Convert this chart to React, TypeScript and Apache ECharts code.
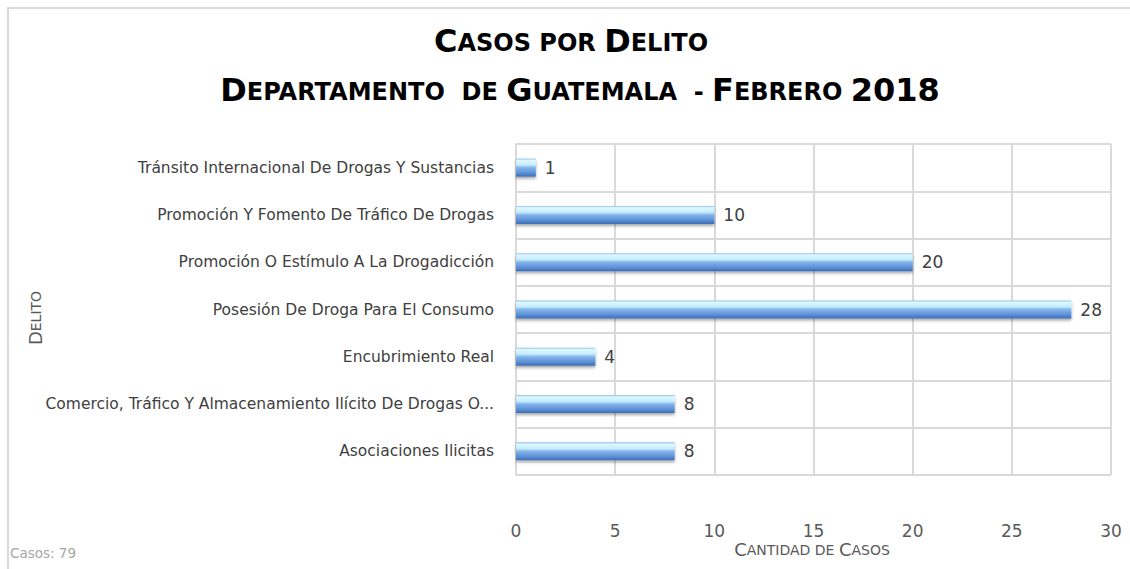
import { useEffect, useRef } from "react";
import * as echarts from "echarts";

const categories = [
  "Asociaciones Ilicitas",
  "Comercio, Tráfico Y Almacenamiento Ilícito De Drogas O...",
  "Encubrimiento Real",
  "Posesión De Droga Para El Consumo",
  "Promoción O Estímulo A La Drogadicción",
  "Promoción Y Fomento De Tráfico De Drogas",
  "Tránsito Internacional De Drogas Y Sustancias",
];
const values = [8, 8, 4, 28, 20, 10, 1];
const xTicks = [0, 5, 10, 15, 20, 25, 30];
const totalLabel = "Casos: 79";

const FONT = "DejaVu Sans";

export default function App() {
  const ref = useRef<HTMLDivElement>(null);
  useEffect(() => {
    if (!ref.current) return;
    const chart = echarts.init(ref.current, null, { renderer: "svg" });
    const titleRich = {
      b: { fontSize: 32, fontWeight: "bold", fontFamily: FONT, fill: "#000", verticalAlign: "bottom", lineHeight: 32 },
      s: { fontSize: 24, fontWeight: "bold", fontFamily: FONT, fill: "#000", verticalAlign: "bottom", lineHeight: 24, padding: [0, 0, 2, 0] },
    };
    const nameRich = {
      b: { fontSize: 18, fontFamily: FONT, fill: "#595959", verticalAlign: "bottom", lineHeight: 18 },
      s: { fontSize: 14, fontFamily: FONT, fill: "#595959", verticalAlign: "bottom", lineHeight: 14, padding: [0, 0, 1, 0] },
    };
    chart.setOption({
      animation: false,
      backgroundColor: "#ffffff",
      grid: { left: 516, right: 19, top: 144, bottom: 94, containLabel: false },
      xAxis: {
        type: "value",
        min: xTicks[0],
        max: xTicks[xTicks.length - 1],
        interval: xTicks[1] - xTicks[0],
        axisLine: { show: false },
        axisTick: { show: false },
        axisLabel: { color: "#595959", fontSize: 17, fontFamily: FONT, margin: 47 },
        splitLine: { show: true, lineStyle: { color: "#d9d9d9", width: 2 } },
      },
      yAxis: {
        type: "category",
        data: categories,
        axisLine: { show: true, lineStyle: { color: "#d9d9d9", width: 2 } },
        axisTick: { show: false },
        splitLine: { show: true, lineStyle: { color: "#d9d9d9", width: 2 } },
        axisLabel: { color: "#404040", fontSize: 15.5, fontFamily: FONT, margin: 22 },
      },
      series: [
        {
          type: "bar",
          data: values,
          barWidth: 18,
          itemStyle: {
            color: new echarts.graphic.LinearGradient(0, 0, 0, 1, [
              { offset: 0, color: "#8fc0ec" },
              { offset: 0.1, color: "#def8ff" },
              { offset: 0.35, color: "#c4ecff" },
              { offset: 0.5, color: "#84b4ea" },
              { offset: 0.8, color: "#5b8fd6" },
              { offset: 1, color: "#3d6cb3" },
            ]),
            shadowColor: "rgba(0,0,0,0.35)",
            shadowBlur: 3,
            shadowOffsetY: 2,
          },
          label: {
            show: true,
            position: "right",
            distance: 9,
            color: "#404040",
            fontSize: 17,
            fontFamily: FONT,
          },
        },
      ],
      graphic: [
        {
          type: "rect",
          silent: true,
          shape: { x: 8, y: 8, width: 1400, height: 800 },
          style: { fill: "none", stroke: "#d9d9d9", lineWidth: 2 },
        },
        {
          type: "text",
          x: 571,
          y: 57,
          style: {
            text: "{b|C}{s|ASOS POR }{b|D}{s|ELITO}",
            rich: titleRich,
            align: "center",
            verticalAlign: "bottom",
            textAlign: "center",
            textVerticalAlign: "bottom",
          },
        },
        {
          type: "text",
          x: 580,
          y: 106,
          style: {
            text: "{b|D}{s|EPARTAMENTO  DE }{b|G}{s|UATEMALA  - }{b|F}{s|EBRERO }{b|2018}",
            rich: titleRich,
            align: "center",
            verticalAlign: "bottom",
            textAlign: "center",
            textVerticalAlign: "bottom",
          },
        },
        {
          type: "text",
          x: 812,
          y: 558,
          style: {
            text: "{b|C}{s|ANTIDAD DE }{b|C}{s|ASOS}",
            rich: nameRich,
            align: "center",
            verticalAlign: "bottom",
            textAlign: "center",
            textVerticalAlign: "bottom",
          },
        },
        {
          type: "text",
          x: 26,
          y: 318,
          rotation: Math.PI / 2,
          style: {
            text: "{b|D}{s|ELITO}",
            rich: nameRich,
            align: "center",
            verticalAlign: "top",
            textAlign: "center",
            textVerticalAlign: "top",
          },
        },
        {
          type: "text",
          x: 10,
          y: 553,
          style: {
            text: totalLabel,
            fill: "#a6a6a6",
            font: `13.5px "${FONT}"`,
            align: "left",
            verticalAlign: "middle",
            textAlign: "left",
            textVerticalAlign: "middle",
          },
        },
      ],
    });
    return () => chart.dispose();
  }, []);
  return (
    <div
      ref={ref}
      style={{ position: "absolute", left: 0, top: 0, width: 1130, height: 569 }}
    />
  );
}
